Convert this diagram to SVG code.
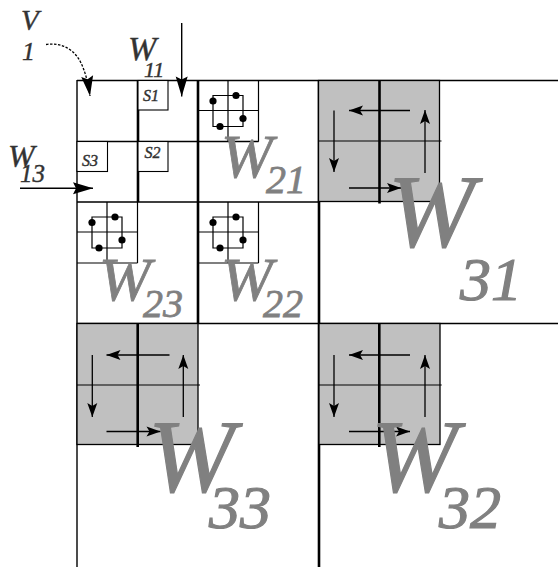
<svg xmlns="http://www.w3.org/2000/svg" width="558" height="567" viewBox="0 0 558 567">
<style>
.thin{stroke:#000;stroke-width:1.4;fill:none}
.thick{stroke:#000;stroke-width:2.6;fill:none}
.gbox{fill:#c0c0c0;stroke:#000;stroke-width:1.3}
.sl{stroke:#000;stroke-width:1.2;fill:none}
.arr{stroke:#000;stroke-width:1.3;fill:none;marker-end:url(#ah)}
.dot{fill:#000}
.big{font-family:"Liberation Serif",serif;font-style:italic;fill:#808080;stroke:#808080;stroke-width:1.2}
.mid{font-family:"Liberation Serif",serif;font-style:italic;fill:#808080;stroke:#808080;stroke-width:0.8}
.lab{font-family:"Liberation Serif",serif;font-style:italic;fill:#333;stroke:#333;stroke-width:0.4}
.sbox{fill:#fff;stroke:#000;stroke-width:1.1}
</style>
<defs>
<marker id="ah" markerUnits="userSpaceOnUse" markerWidth="16" markerHeight="12" refX="14" refY="5" orient="auto" overflow="visible">
<path d="M0,0 L14,5 L0,10 L3,5 Z" fill="#000"/>
</marker>
<marker id="ahb" markerUnits="userSpaceOnUse" markerWidth="22" markerHeight="14" refX="20" refY="6" orient="auto" overflow="visible">
<path d="M0,0 L20,6 L0,12 L3,6 Z" fill="#000"/>
</marker>
<g id="loop">
<path d="M15,15 H45 V46 H15 Z" class="sl"/>
<circle class="dot" cx="15" cy="20.5" r="3.6"/>
<circle class="dot" cx="38" cy="15" r="3.6"/>
<circle class="dot" cx="45" cy="38" r="3.6"/>
<circle class="dot" cx="22" cy="46" r="3.6"/>
</g>
<g id="smallgrid">
<path class="sl" d="M30,0 V61 M60.5,0 V61 M0,30 H60.5 M0,61 H60.5"/>
<use href="#loop"/>
</g>
</defs>

<g id="grid">
<path class="thin" d="M77,80.5 H558 M77,80 V567 M77,141.5 H258.5 M77,202 H319 M77,323.5 H558"/>
<path class="thick" d="M138,80 V202 M198,80 V323.5 M319,80 V567"/>
</g>

<g id="W11">
<rect class="sbox" x="138" y="80.5" width="30" height="29.5"/>
<text class="lab" x="143" y="100.5" font-size="16">S1</text>
<rect class="sbox" x="138" y="141.5" width="30" height="30"/>
<text class="lab" x="144.5" y="158" font-size="16">S2</text>
<rect class="sbox" x="77" y="141.5" width="30.5" height="30"/>
<text class="lab" x="82" y="166" font-size="16">S3</text>
<text class="lab" x="128" y="60" font-size="34">W</text>
<text class="lab" x="144" y="76.5" font-size="22">11</text>
<text class="lab" x="8" y="166.5" font-size="32">W</text>
<text class="lab" x="20" y="182" font-size="25">13</text>
<text class="lab" x="21" y="30" font-size="29">V</text>
<text class="lab" x="22" y="60" font-size="26">1</text>
</g>

<g id="W21">
<use href="#smallgrid" x="198" y="80.5"/>
<text class="mid" x="221" y="176.5" font-size="62">W</text>
<text class="mid" x="266" y="193" font-size="40">21</text>
</g>

<g id="W23">
<use href="#smallgrid" x="77" y="202"/>
<text class="mid" x="99" y="300" font-size="62">W</text>
<text class="mid" x="143" y="316.5" font-size="40">23</text>
</g>

<g id="W22">
<use href="#smallgrid" x="198" y="202"/>
<text class="mid" x="221" y="300" font-size="62">W</text>
<text class="mid" x="263" y="316.5" font-size="40">22</text>
</g>

<g id="W31">
<rect class="gbox" x="318.5" y="80.5" width="121" height="121"/>
<path class="thick" d="M379.5,80.5 V203.5"/>
<path class="sl" d="M318.5,141 H441.5"/>
<path class="arr" d="M410,110.5 H349"/>
<path class="arr" d="M334,110.5 V172"/>
<path class="arr" d="M349,188 H401"/>
<path class="arr" d="M425,173 V110"/>
<text class="big" x="388" y="246" font-size="104">W</text>
<text class="big" x="460" y="300" font-size="62">31</text>
</g>

<g id="W33">
<rect class="gbox" x="77" y="323.5" width="121" height="121"/>
<path class="thick" d="M137.7,323.5 V447"/>
<path class="sl" d="M77,385 H200"/>
<path class="arr" d="M169.5,355 H106.5"/>
<path class="arr" d="M92.3,355 V417"/>
<path class="arr" d="M106.5,431.5 H160.5"/>
<path class="arr" d="M183.3,417 V355"/>
<text class="big" x="148" y="491" font-size="104">W</text>
<text class="big" x="209" y="528" font-size="62">33</text>
</g>

<g id="W32">
<rect class="gbox" x="319" y="323.5" width="121" height="121"/>
<path class="thick" d="M379.3,323.5 V447"/>
<path class="sl" d="M319,385 H441.7"/>
<path class="arr" d="M410,355 H349"/>
<path class="arr" d="M334,355 V417"/>
<path class="arr" d="M349,431.5 H410"/>
<path class="arr" d="M425,417 V355"/>
<text class="big" x="371" y="491" font-size="104">W</text>
<text class="big" x="439" y="528" font-size="62">32</text>
</g>

<g id="connectors">
<path d="M46,44.5 C62,42 75,50 81,63 C85,71 88,82 90,96" stroke="#000" stroke-width="1.3" fill="none" stroke-dasharray="2.5,1.5" marker-end="url(#ahb)"/>
<path d="M181.7,23 V96.5" stroke="#000" stroke-width="1.4" fill="none" marker-end="url(#ahb)"/>
<path d="M20,188.3 H93" stroke="#000" stroke-width="1.4" fill="none" marker-end="url(#ahb)"/>
</g>
</svg>
